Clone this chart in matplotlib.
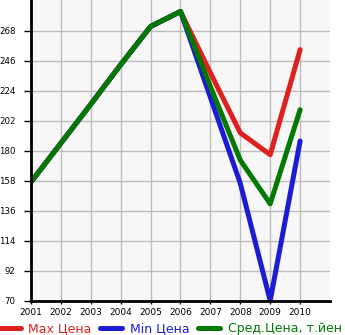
import matplotlib
matplotlib.use("Agg")
import matplotlib.pyplot as plt

years = [2001, 2002, 2003, 2004, 2005, 2006, 2007, 2008, 2009, 2010]
max_price = [157, 185.5, 214, 243, 271, 282, 237, 193, 177, 254]
min_price = [157, 185.5, 214, 243, 271, 282, 219, 156, 70, 187]
avg_price = [157, 185.5, 214, 243, 271, 282, 227, 173, 141, 210]
yticks = [70, 92, 114, 136, 158, 180, 202, 224, 246, 268]
labels = ["Max Цена", "Min Цена", "Сред.Цена, т.йен"]
colors = ["#DD2020", "#1C1CD4", "#037803"]

fig = plt.figure(figsize=(3.45, 3.35), dpi=100)
ax = fig.add_axes([31/345, 34.3/335, 299/345, 300.7/335])
ax.set_facecolor("#F7F7F7")
lw = 3.6
for vals, c, lab in zip([max_price, min_price, avg_price], colors, labels):
    ax.plot(years, vals, color=c, lw=lw, solid_capstyle="round", solid_joinstyle="round", label=lab)
ax.set_xlim(2001, 2011)
ax.set_ylim(70, 290.4)
ax.set_xticks(years)
ax.set_yticks(yticks)
ax.set_xticklabels([str(y) for y in years], fontsize=6.5)
ax.set_yticklabels([str(v) for v in yticks], fontsize=6.2)
ax.grid(True, color="#BDBDBD", lw=1)
ax.set_axisbelow(True)
for s in ["top", "right"]:
    ax.spines[s].set_visible(False)
for s in ["left", "bottom"]:
    ax.spines[s].set_linewidth(2)
    ax.spines[s].set_color("black")
ax.tick_params(axis="y", length=5, width=1, pad=6)
ax.tick_params(axis="x", length=2, width=1, pad=3)

fig.legend(loc="lower left", bbox_to_anchor=(-0.005, 0.0), ncol=3, frameon=False,
           fontsize=9, handlelength=1.8, handletextpad=0.6, columnspacing=0.65,
           labelcolor=colors, borderaxespad=0, borderpad=0)
fig.savefig("out.png", dpi=100)
